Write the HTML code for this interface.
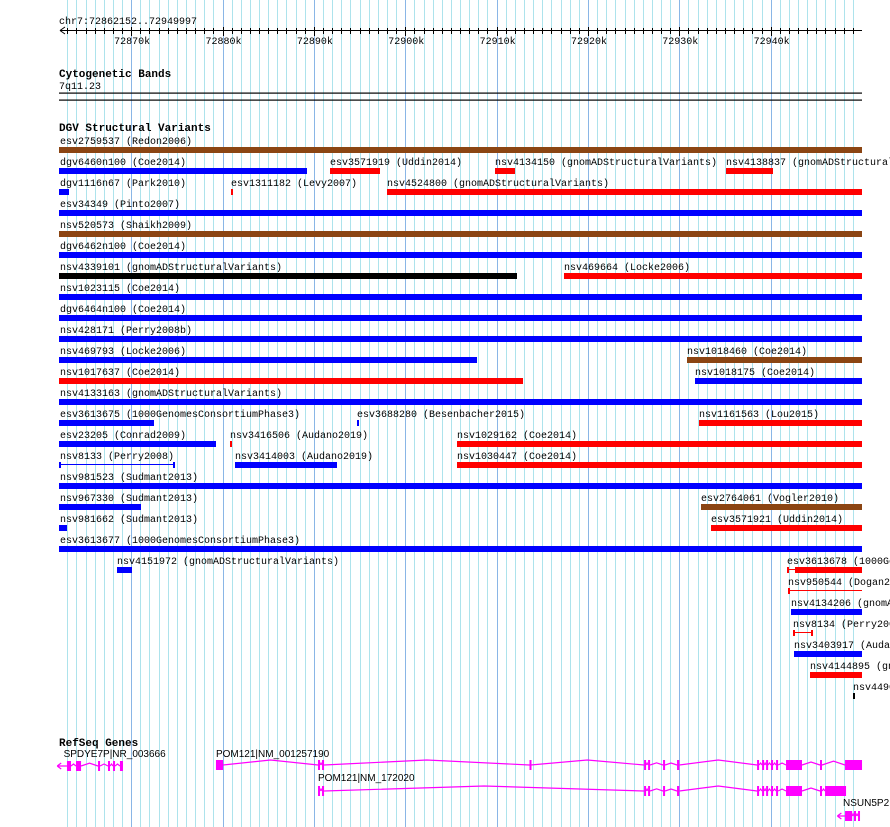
<!DOCTYPE html>
<html><head><meta charset="utf-8">
<style>
html,body{margin:0;padding:0;background:#fff;}
svg{display:block;}
text{font-family:"Liberation Mono","DejaVu Sans Mono",monospace;font-size:10px;fill:#000;}
.hd{font-weight:bold;font-size:11px;}
.gl{font-family:"Liberation Sans",sans-serif;font-size:10px;}
</style></head>
<body>
<svg id="chart" width="890" height="827" viewBox="0 0 890 827" xmlns="http://www.w3.org/2000/svg">
<g id="grid"></g>
<g id="ruler"></g>
<text x="59" y="24">chr7:72862152..72949997</text>
<text x="59" y="77" class="hd">Cytogenetic Bands</text>
<text x="59" y="89">7q11.23</text>
<rect x="59" y="92.5" width="803" height="1.2" fill="#000"/>
<rect x="59" y="99.5" width="803" height="1.2" fill="#000"/>
<text x="59" y="131" class="hd">DGV Structural Variants</text>
<g id="svs"></g>
<text x="59" y="746" class="hd">RefSeq Genes</text>
<g id="genes"></g>
</svg>
<script>
const viewStart = 72862.152, viewEnd = 72949.997; // kb
const tickLabels = ["72870k","72880k","72890k","72900k","72910k","72920k","72930k","72940k"];
const tickValues = [72870,72880,72890,72900,72910,72920,72930,72940];
// rows of structural variants: [name, start kb, end kb, color, style]
const svRows = [
 [["esv2759537 (Redon2006)",72862.1,72950.0,"brown","bar"]],
 [["dgv6460n100 (Coe2014)",72862.1,72889.24,"blue","bar"],["esv3571919 (Uddin2014)",72891.76,72897.24,"red","bar"],["nsv4134150 (gnomADStructuralVariants)",72909.82,72912.01,"red","bar"],["nsv4138837 (gnomADStructuralVariants)",72935.11,72940.26,"red","bar"]],
 [["dgv1116n67 (Park2010)",72862.1,72863.19,"blue","bar"],["esv1311182 (Levy2007)",72880.93,72881.15,"red","bar"],["nsv4524800 (gnomADStructuralVariants)",72898.0,72950.0,"red","bar"]],
 [["esv34349 (Pinto2007)",72862.1,72950.0,"blue","bar"]],
 [["nsv520573 (Shaikh2009)",72862.1,72950.0,"brown","bar"]],
 [["dgv6462n100 (Coe2014)",72862.1,72950.0,"blue","bar"]],
 [["nsv4339101 (gnomADStructuralVariants)",72862.1,72912.23,"black","bar"],["nsv469664 (Locke2006)",72917.38,72950.0,"red","bar"]],
 [["nsv1023115 (Coe2014)",72862.1,72950.0,"blue","bar"]],
 [["dgv6464n100 (Coe2014)",72862.1,72950.0,"blue","bar"]],
 [["nsv428171 (Perry2008b)",72862.1,72950.0,"blue","bar"]],
 [["nsv469793 (Locke2006)",72862.1,72907.85,"blue","bar"],["nsv1018460 (Coe2014)",72930.84,72950.0,"brown","bar"]],
 [["nsv1017637 (Coe2014)",72862.1,72912.89,"red","bar"],["nsv1018175 (Coe2014)",72931.72,72950.0,"blue","bar"]],
 [["nsv4133163 (gnomADStructuralVariants)",72862.1,72950.0,"blue","bar"]],
 [["esv3613675 (1000GenomesConsortiumPhase3)",72862.1,72872.5,"blue","bar"],["esv3688280 (Besenbacher2015)",72894.72,72894.94,"blue","bar"],["nsv1161563 (Lou2015)",72932.16,72950.0,"red","bar"]],
 [["esv23205 (Conrad2009)",72862.1,72879.28,"blue","bar"],["nsv3416506 (Audano2019)",72880.82,72881.04,"red","bar"],["nsv1029162 (Coe2014)",72905.67,72950.0,"red","bar"]],
 [["nsv8133 (Perry2008)",72862.1,72874.8,"blue","line"],["nsv3414003 (Audano2019)",72881.36,72892.53,"blue","bar"],["nsv1030447 (Coe2014)",72905.67,72950.0,"red","bar"]],
 [["nsv981523 (Sudmant2013)",72862.1,72950.0,"blue","bar"]],
 [["nsv967330 (Sudmant2013)",72862.1,72871.07,"blue","bar"],["esv2764061 (Vogler2010)",72932.37,72950.0,"brown","bar"]],
 [["nsv981662 (Sudmant2013)",72862.1,72862.97,"blue","bar"],["esv3571921 (Uddin2014)",72933.47,72950.0,"red","bar"]],
 [["esv3613677 (1000GenomesConsortiumPhase3)",72862.1,72950.0,"blue","bar"]],
 [["nsv4151972 (gnomADStructuralVariants)",72868.45,72870.09,"blue","bar"],["esv3613678 (1000GenomesConsortiumPhase3)",72941.79,72950.0,"red","mixed"]],
 [["nsv950544 (Dogan2015)",72941.9,72950.0,"red","line"]],
 [["nsv4134206 (gnomADStructuralVariants)",72942.23,72950.0,"blue","bar"]],
 [["nsv8134 (Perry2008)",72942.45,72944.64,"red","line"]],
 [["nsv3403917 (Audano2019)",72942.56,72950.0,"blue","bar"]],
 [["nsv4144895 (gnomADStructuralVariants)",72944.31,72950.0,"red","bar"]],
 [["nsv449018 (gnomADStructuralVariants)",72949.01,72949.12,"black","bar"]]
];
const mixedThickStart = 72942.67;
// genes: name, label kb, exons (kb pairs), arrow start kb
const geneNames = ["SPDYE7P|NR_003666","POM121|NM_001257190","POM121|NM_172020","NSUN5P2|"];
const geneStarts = [72861.9,72879.28,72890.45,72947.3];
const geneLabelAt = [72862.6,72879.28,72890.45,72947.92];
const geneExons = [
 [[72862.97,72863.41],[72863.96,72864.51],[72866.37,72866.59],[72867.46,72867.68],[72868.01,72868.23],[72868.77,72869.10]],
 [[72879.28,72880.05],[72890.45,72890.67],[72890.89,72891.11],[72913.6,72913.72],[72926.14,72926.36],[72926.58,72926.80],[72928.22,72928.44],[72929.75,72930.0],[72938.51,72938.73],[72939.06,72939.28],[72939.5,72939.7],[72940.04,72940.26],[72940.59,72940.81],[72941.68,72943.43],[72945.4,72945.62],[72948.14,72950.0]],
 [[72890.45,72890.67],[72890.89,72891.11],[72926.14,72926.36],[72926.58,72926.80],[72928.22,72928.44],[72929.75,72930.0],[72938.51,72938.73],[72939.06,72939.28],[72939.5,72939.7],[72940.04,72940.26],[72940.59,72940.81],[72941.68,72943.43],[72945.4,72945.62],[72945.95,72948.25]],
 [[72948.14,72948.92],[72949.12,72949.34],[72949.56,72949.78]]
];
const geneY = [761,760,786,811];
const geneLabelY = [757,757,781,806];

const NS="http://www.w3.org/2000/svg";
const X0=59.5, X1=862;
function x(kb){return X0+(kb-viewStart)*(X1-X0)/(viewEnd-viewStart);}
function el(tag,attrs,parent){const e=document.createElementNS(NS,tag);for(const k in attrs)e.setAttribute(k,attrs[k]);parent.appendChild(e);return e;}
const colors={blue:"#0000ff",red:"#ff0000",brown:"#8b4513",black:"#000"};

// grid
const grid=document.getElementById('grid');
for(let k=72863;k<=72949;k++){
  const major=k%10===0;
  const g=el('rect',{x:Math.round(x(k)),y:0,width:1,height:827,fill:major?"#8ab6e6":"#ade3ec"},grid);
  
  
}
// ruler
const ruler=document.getElementById('ruler');
let l=el('rect',{x:60,y:30,width:802,height:1,fill:"#000"},ruler);

let a=el('path',{d:"M60 30.5 L65 27 M60 30.5 L65 34",stroke:"#000",fill:"none"},ruler);

for(let k=72863;k<=72949;k++){
  const major=k%10===0;
  const t=el('rect',{x:Math.round(x(k)),y:major?27:28,width:1,height:major?9:6,fill:"#000"},ruler);
  
}
tickValues.forEach((v,i)=>{
  const t=el('text',{x:x(v)+1,y:44,'text-anchor':'middle'},ruler);
  t.textContent=tickLabels[i];
  
});
// SVs
const svs=document.getElementById('svs');
svRows.forEach((row,r)=>{
  const ly=144+r*21, by=147+r*21;
  row.forEach(f=>{
    const [name,s,e,c,style]=f;
    const x0=Math.round(x(s)), x1=Math.max(Math.round(x(e)),x0+2);
    const g=el('g',{},svs);
    
    
    const t=el('text',{x:Math.max(x0,60),y:ly},g);t.textContent=name;
    
    const col=colors[c];
    if(style==="bar"){
      const b=el('rect',{x:x0,y:by,width:x1-x0,height:6,fill:col},g);
      
    }else if(style==="line"){
      const b=el('rect',{x:x0,y:by+2,width:x1-x0,height:1,fill:col},g);
      
      el('rect',{x:x0,y:by,width:2,height:6,fill:col},g);
      if(x1<861) el('rect',{x:x1-2,y:by,width:2,height:6,fill:col},g);
    }else{
      const xt=Math.round(x(mixedThickStart));
      el('rect',{x:x0,y:by+2,width:xt-x0,height:1,fill:col},g);
      el('rect',{x:x0,y:by,width:2,height:6,fill:col},g);
      const b=el('rect',{x:xt,y:by,width:x1-xt,height:6,fill:col},g);
      
    }
  });
});
// genes
const genes=document.getElementById('genes');
geneNames.forEach((n,i)=>{
  const g=el('g',{},genes);
  
  
  const t=el('text',{x:x(geneLabelAt[i]),y:geneLabelY[i],class:'gl'},g);t.textContent=n;
  
  const y=geneY[i], mid=y+5, ex=geneExons[i];
  let d="";
  for(let j=0;j<ex.length-1;j++){
    const a1=x(ex[j][1]), a2=x(ex[j+1][0]);
    const w=a2-a1, h=Math.min(5,Math.max(2,w/6));
    d+=`M${a1} ${mid} L${(a1+a2)/2} ${mid-h} L${a2} ${mid} `;
  }
  const ln=el('path',{d:d,stroke:"#ff00ff",fill:"none","stroke-width":1.2},g);
  
  if(i===0||i===3){
    const ax=x(geneStarts[i]), bx=x(ex[0][0]);
    const ar=el('path',{d:`M${ax} ${mid} L${bx} ${mid} M${ax} ${mid} L${ax+4} ${mid-3} M${ax} ${mid} L${ax+4} ${mid+3}`,stroke:"#ff00ff",fill:"none","stroke-width":1.2},g);
    
  }
  ex.forEach(p=>{
    const x0=x(p[0]), w=Math.max(x(p[1])-x0,2);
    const r=el('rect',{x:x0,y:y,width:w,height:10,fill:"#ff00ff"},g);
    
  });
});
</script>
</body></html>
